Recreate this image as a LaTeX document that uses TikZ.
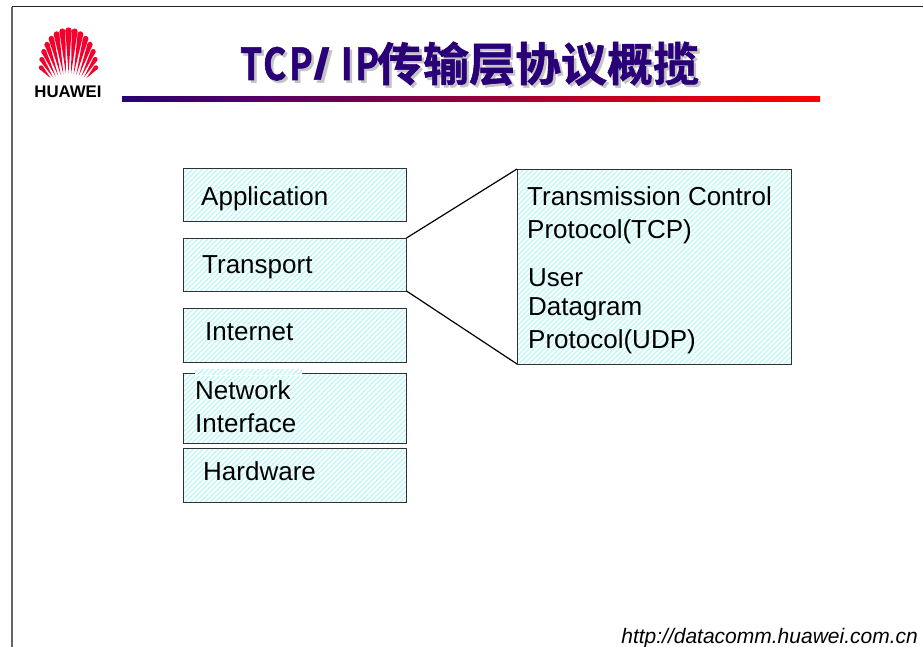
\documentclass[tikz,border=0pt]{standalone}
\usepackage{fontspec}
\usetikzlibrary{calc}
\setmainfont{Liberation Sans}
\newfontfamily\titlecjk[FakeBold=1.2]{Noto Sans CJK SC Bold}
\newfontfamily\titlelat[FakeStretch=0.8,FakeBold=1.2]{Noto Sans CJK SC Bold}
\newfontfamily\titleslash[FakeStretch=1.4]{Liberation Sans Bold}
\definecolor{hatchbase}{HTML}{BCF8F8}
\definecolor{titleblue}{HTML}{2A0078}
\definecolor{titleshadow}{HTML}{C4C4C4}
\definecolor{huaweired}{HTML}{F5002D}
\definecolor{edgegrey}{HTML}{303030}
\tikzset{
  x=1pt,y=-1pt,
  hatchbox/.style={draw=edgegrey,line width=0.9pt,fill=hatchbase,anchor=north west,outer sep=0pt,inner sep=0pt,
    path picture={\foreach \k in {-400,-395,...,400}{\draw[white,line width=1.9pt] (\k-300,300)--(\k+300,-300);}}},
  label text/.style={anchor=base west,inner sep=0pt,font=\fontsize{26}{26}\selectfont,text=black},
  link/.style={draw=black,line width=1.2pt},
}
\newcommand{\titletext}{{\fontsize{44}{44}\selectfont\titlelat T\kern1pt C\kern3pt P\kern1pt{\titleslash/}\kern10pt I\kern3pt P}\kern-2pt\raisebox{-1pt}{\fontsize{46}{46}\selectfont\titlecjk 传输层协议概揽}}
\begin{document}
\begin{tikzpicture}
\useasboundingbox (0,0) rectangle (923,647);
\fill[white] (0,0) rectangle (923,647);
% slide frame
\draw[black!85,line width=1pt] (12,7)--(923,7);
\draw[black!60,line width=1.2pt] (12,7)--(12,647);
% logo
\foreach \i in {-7,...,7}{
  \pgfmathsetmacro{\pa}{\i*90/7}
  \pgfmathsetmacro{\pw}{3.1-0.9*abs(\i)/7}
  \coordinate (pO) at ({68.5+27.5*sin(\pa)},{67.5-37*cos(\pa)});
  \coordinate (pI) at ({68.5+18*\i/7},{73+5*abs(\i)/7});
  \fill[huaweired] (pI) -- ($(pO)!\pw pt!90:(pI)$) -- ($(pO)!\pw pt!-90:(pI)$) -- cycle;
  \fill[huaweired] (pO) circle (\pw pt);
}
\node[anchor=base,inner sep=0pt,font=\bfseries\fontsize{16.8}{17}\selectfont] (brand) at (68,98) {HUAWEI};
% title
\node[anchor=base west,inner sep=0pt,text=titleshadow] (titleshade) at (242.5,82.5) {\titletext};
\node[anchor=base west,inner sep=0pt,text=titleblue] (title) at (240,80) {\titletext};
\shade[left color=titleblue,right color=red] (122,97) rectangle (820,102);
% boxes
\node[hatchbox,minimum width=223.5pt,minimum height=53pt] (app) at (183,168) {};
\node[hatchbox,minimum width=223.5pt,minimum height=53pt] (trans) at (183,238) {};
\node[hatchbox,minimum width=223.5pt,minimum height=54pt] (inet) at (183,308) {};
\node[hatchbox,minimum width=223.5pt,minimum height=70pt] (net) at (183,373) {};
\node[hatchbox,minimum width=223.5pt,minimum height=54pt] (hw) at (183,448) {};
\node[hatchbox,minimum width=274pt,minimum height=195pt] (proto) at (517,169) {};
\draw[link] (trans.north east) -- (proto.north west);
\draw[link] (trans.south east) -- (proto.south west);
% text box of Network Interface overlaps the frame
\begin{scope}
  \clip (195,369) rectangle (302,375);
  \fill[hatchbase] (195,369) rectangle (302,375);
  \foreach \k in {560,565,...,680}{\draw[white,line width=1.9pt] (\k,0)--(\k-700,700);}
\end{scope}
% labels
\node[label text] (tapp) at (201,205) {Application};
\node[label text] (ttrans) at (202,273) {Transport};
\node[label text] (tinet) at (205,340) {Internet};
\node[label text] (tnet) at (195,399) {Network};
\node[label text] (tif) at (195,432) {Interface};
\node[label text] (thw) at (203,480) {Hardware};
\node[label text] (ttcp) at (527,205) {Transmission Control};
\node[label text] (ttcpb) at (527,238) {Protocol(TCP)};
\node[label text] (tudpa) at (528,286) {User};
\node[label text] (tudpb) at (528,315) {Datagram};
\node[label text] (tudpc) at (528,348) {Protocol(UDP)};
\node[anchor=base east,inner sep=0pt,font=\itshape\fontsize{21}{21}\selectfont] (url) at (918,643) {http://datacomm.huawei.com.cn};
\end{tikzpicture}
\end{document}
